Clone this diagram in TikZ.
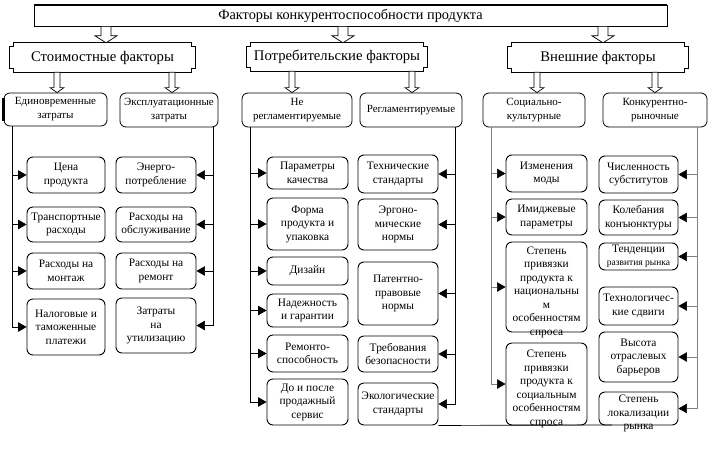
\documentclass[tikz,border=0pt]{standalone}
\usepackage{fontspec}
\setmainfont{Liberation Serif}
\usetikzlibrary{calc,arrows.meta}
\newcommand\leaffont{\fontsize{11.4}{13.5}\selectfont}
\newcommand\subfont{\fontsize{11}{14}\selectfont}
\newcommand\catfont{\fontsize{14.7}{17}\selectfont}
\tikzset{
  leaf/.style={draw, rounded corners=6pt, line width=0.9pt, inner sep=0pt},
  leaftext/.style={align=center, inner sep=0pt, font=\leaffont},
  sub/.style={draw, rounded corners=6pt, line width=0.8pt, inner sep=0pt, align=center, font=\subfont},
  cattext/.style={inner sep=0pt, font=\catfont},
  catline/.style={line width=0.9pt},
  conn/.style={line width=0.7pt, -{Triangle[length=8.5pt,width=9.5pt]}},
  conng/.style={line width=0.6pt, draw=gray, -{Triangle[length=8.5pt,width=9.5pt,color=black]}},
  hollow/.style={line width=0.7pt, fill=white},
}
% optional text shift, name, x1, y1, x2, y2, text
\newcommand\leafbox[7][0]{%
  \node[leaf, minimum width={(#5-#3)*1pt}, minimum height={(#6-#4)*1pt}] (#2) at ({(#3+#5)/2},{(#4+#6)/2}) {};
  \node[leaftext, yshift=#1pt] (#2t) at (#2.center) {#7};
}
\newcommand\subbox[6]{%
  \node[sub, minimum width={(#4-#2)*1pt}, minimum height={(#5-#3)*1pt}] (#1) at ({(#2+#4)/2},{(#3+#5)/2}) {#6};
}
\newcommand\catbox[6]{%
  \node[cattext, minimum width={(#4-#2)*1pt}, minimum height={(#5-#3)*1pt}] (#1) at ({(#2+#4)/2},{(#3+#5)/2}) {#6};
  \draw[catline] ($(#1.north west)+(4,0)$) -- ($(#1.north east)+(-4,0)$) -- ($(#1.north east)+(-4,4)$) -- ($(#1.north east)+(0,4)$)
    -- ($(#1.south east)+(0,-4)$) -- ($(#1.south east)+(-4,-4)$) -- ($(#1.south east)+(-4,0)$)
    -- ($(#1.south west)+(4,0)$) -- ($(#1.south west)+(4,-4)$) -- ($(#1.south west)+(0,-4)$)
    -- ($(#1.north west)+(0,4)$) -- ($(#1.north west)+(4,4)$) -- cycle;
}
% x, from node, to node, half shaft, half head, head length
\newcommand\harrow[6]{%
  \draw[hollow] let \p1=(#1,0 |- #2.south), \p2=(#1,0 |- #3.north) in
    (\x1-#4pt,\y1) -- (\x1-#4pt,\y2+#6pt) -- (\x1-#5pt,\y2+#6pt) -- (\x2,\y2)
    -- (\x1+#5pt,\y2+#6pt) -- (\x1+#4pt,\y2+#6pt) -- (\x1+#4pt,\y1) -- cycle;
}
\begin{document}
\begin{tikzpicture}[x=1pt,y=-1pt]
\useasboundingbox (0,0) rectangle (711,450);

% title
\node[draw, line width=0.7pt, minimum width=633pt, minimum height=21pt, inner sep=0pt, font=\fontsize{14.3}{16}\selectfont] (title) at (350.5,15.5) {Факторы конкурентоспособности продукта};
\draw[line width=1.8pt] (title.north west) -- (title.north east);

% categories
\catbox{c1}{10}{43}{195}{72}{Стоимостные факторы}
\catbox{c2}{247}{43}{427}{71}{Потребительские факторы}
\catbox{c3}{508}{43}{688}{72}{Внешние факторы}

\harrow{106}{title}{c1}{5}{11}{7}
\harrow{343}{title}{c2}{5}{11}{7}
\harrow{603}{title}{c3}{5}{11}{7}

% subcategories
\subbox{s1}{4}{93}{107}{126}{Единовременные\\затраты}
\subbox{s2}{120}{93}{218}{127}{Эксплуатационные\\затраты}
\subbox{s3}{242}{93}{352}{127}{Не\\регламентируемые}
\subbox{s4}{360}{93}{462}{127}{Регламентируемые}
\subbox{s5}{483}{93}{585}{127}{Социально-\\культурные}
\subbox{s6}{603}{93}{707}{127}{Конкурентно-\\рыночные}
\draw[line width=2.5pt] ($(s1.north west)+(0,5)$) -- ($(s1.south west)+(0,-5)$);

\harrow{57}{c1}{s1}{3}{7}{5}
\harrow{172}{c1}{s2}{3}{7}{5}
\harrow{292}{c2}{s3}{3}{7}{5}
\harrow{412}{c2}{s4}{3}{7}{5}
\harrow{537}{c3}{s5}{3}{7}{5}
\harrow{655}{c3}{s6}{3}{7}{5}

% leaves: cost factors
\leafbox{l11}{27}{157}{105}{193}{Цена\\продукта}
\leafbox{l12}{27}{207}{105}{242}{Транспортные\\расходы}
\leafbox{l13}{27}{253}{105}{289}{Расходы на\\монтаж}
\leafbox{l14}{27}{299}{105}{355}{Налоговые и\\таможенные\\платежи}
\leafbox{l21}{116}{157}{196}{193}{Энерго-\\потребление}
\leafbox{l22}{116}{207}{196}{242}{Расходы на\\обслуживание}
\leafbox{l23}{116}{253}{196}{289}{Расходы на\\ремонт}
\leafbox{l24}{116}{298}{196}{353}{Затраты\\на\\утилизацию}

% leaves: consumer factors
\leafbox{l31}{267}{157}{348}{189}{Параметры\\качества}
\leafbox{l32}{267}{198}{348}{250}{Форма\\продукта и\\упаковка}
\leafbox{l33}{267}{257}{348}{285}{Дизайн}
\leafbox{l34}{267}{294}{348}{327}{Надежность\\и гарантии}
\leafbox{l35}{267}{335}{348}{372}{Ремонто-\\способность}
\leafbox{l36}{267}{379}{348}{425}{До и после\\продажный\\сервис}
\leafbox{l41}{358}{155}{438}{193}{Технические\\стандарты}
\leafbox{l42}{358}{199}{438}{250}{Эргоно-\\мические\\нормы}
\leafbox{l43}{358}{262}{438}{325}{Патентно-\\правовые\\нормы}
\leafbox{l44}{358}{336}{438}{372}{Требования\\безопасности}
\leafbox{l45}{358}{383}{438}{425}{Экологические\\стандарты}

% leaves: external factors
\leafbox{l51}{506}{155}{587}{192}{Изменения\\моды}
\leafbox{l52}{506}{199}{587}{235}{Имиджевые\\параметры}
\leafbox[-5]{l53}{506}{242}{587}{332}{Степень\\привязки\\продукта к\\национальны\\м\\особенностям\\спроса}
\leafbox[-5]{l54}{506}{343}{587}{425}{Степень\\привязки\\продукта к\\социальным\\особенностям\\спроса}
\leafbox{l61}{599}{156}{678}{193}{Численность\\субститутов}
\leafbox{l62}{599}{200}{678}{235}{Колебания\\конъюнктуры}
\leafbox{l63}{599}{243}{678}{270}{Тенденции\\{\fontsize{9.5}{12}\selectfont развития рынка}}
\leafbox{l64}{599}{287}{678}{325}{Технологичес-\\кие сдвиги}
\leafbox{l65}{599}{332}{678}{382}{Высота\\отраслевых\\барьеров}
\leafbox[-5]{l66}{599}{392}{678}{425}{Степень\\локализации\\рынка}

% connectors
\foreach \l in {l11,l12,l13,l14} \draw[conn] (12,0 |- s1.south) |- (\l.west);
\foreach \l in {l21,l22,l23,l24} \draw[conn] (213,0 |- s2.south) |- (\l.east);
\foreach \l in {l31,l32,l33,l34,l35,l36} \draw[conn] (250,0 |- s3.south) |- (\l.west);
\foreach \l in {l41,l42,l43,l44,l45} \draw[conn] (455,0 |- s4.south) |- (\l.east);
\foreach \l in {l51,l52,l53,l54} \draw[conng] (491,0 |- s5.south) |- (\l.west);
\foreach \l in {l61,l62,l63,l64,l65,l66} \draw[conng] (697,0 |- s6.south) |- (\l.east);

% stray base line
\coordinate (baseend) at (612,425);
\draw[line width=0.7pt] (l45.south east) -- (baseend);
\end{tikzpicture}
\end{document}
